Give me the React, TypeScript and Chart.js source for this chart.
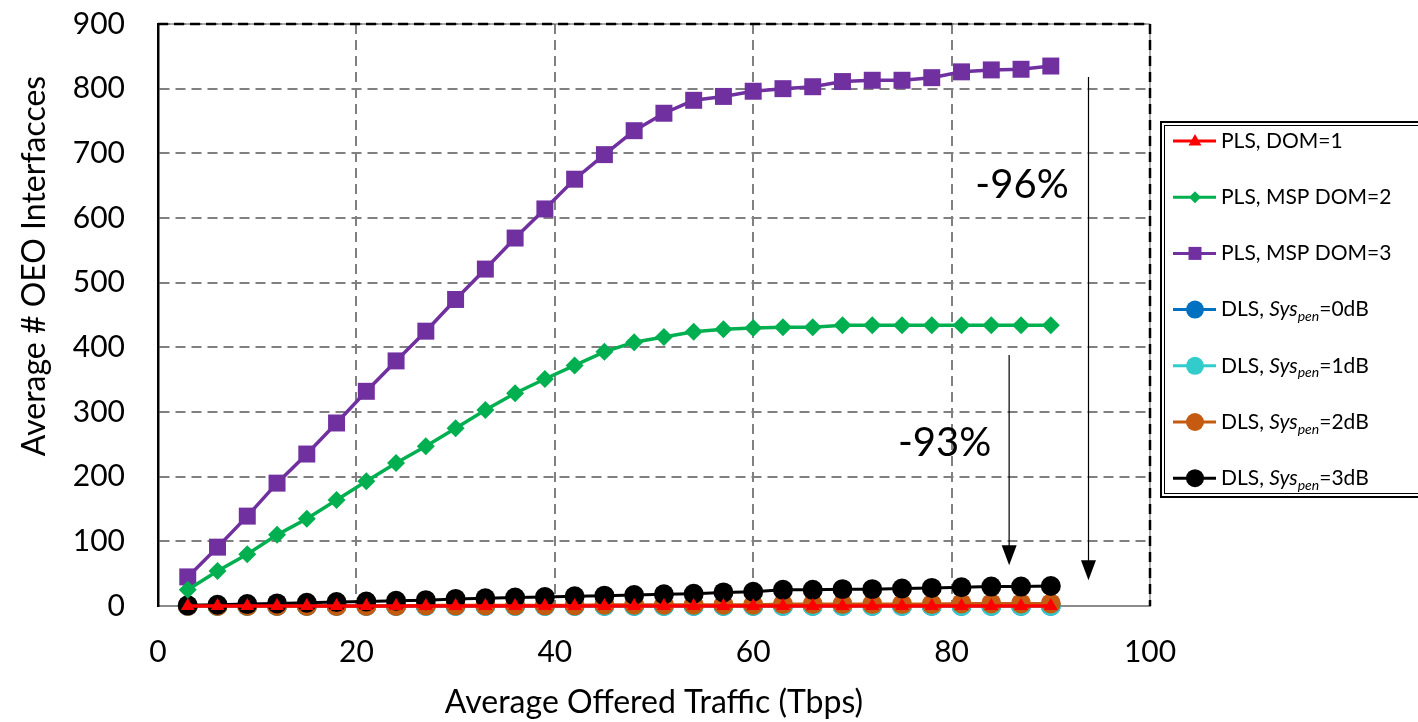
import React, { useEffect, useRef } from 'react';
import { Chart, registerables } from 'chart.js';

Chart.register(...registerables);

// ---- data ----
const traffic = [3, 6, 9, 12, 15, 18, 21, 24, 27, 30, 33, 36, 39, 42, 45, 48, 51, 54, 57, 60, 63, 66, 69, 72, 75, 78, 81, 84, 87, 90];
const plsDom1 = [0, 0, 0, 0, 0, 0, 0, 0, 0, 0, 0, 0, 0, 0, 0, 0, 0, 0, 0, 0, 0, 0, 0, 0, 0, 0, 0, 0, 0, 0];
const plsMspDom2 = [25, 54, 80, 110, 135, 164, 193, 221, 247, 275, 303, 329, 351, 372, 393, 408, 416, 424, 428, 430, 431, 431, 434, 434, 434, 434, 434, 434, 434, 434];
const plsMspDom3 = [45, 91, 139, 190, 235, 283, 332, 379, 425, 474, 521, 569, 614, 660, 698, 735, 762, 782, 788, 796, 800, 803, 811, 813, 813, 817, 826, 829, 830, 835];
const dls0 = [0, 0, 0, 0, 0, 0, 0, 0, 0, 0, 0, 0, 0, 0, 0, 0, 0, 0, 0, 0, 0, 0, 0, 0, 0, 0, 0, 0, 0, 0];
const dls1 = [0, 0, 0, 0, 0, 0, 0, 0, 0, 0, 0, 0, 0, 0, 0, 0, 0, 0, 0, 0, 0, 0, 0, 0, 0, 0, 0, 0, 0, 0];
const dls2 = [0, 0, 0, 0, 0, 0, 0, 0, 1, 1, 1, 1, 1, 1, 2, 2, 2, 2, 2, 2, 3, 3, 3, 3, 3, 3, 4, 4, 4, 4];
const dls3 = [1, 2, 3, 4, 5, 6, 7, 8, 9, 11, 12, 13, 14, 15, 16, 17, 18, 19, 21, 22, 25, 25, 26, 26, 27, 28, 29, 30, 30, 31];

const xTicks = [0, 20, 40, 60, 80, 100];
const yTicks = [0, 100, 200, 300, 400, 500, 600, 700, 800, 900];

const xTitle = 'Average Offered Traffic (Tbps)';
const yTitle = 'Average # OEO Interfacces';

// annotations (data coordinates)
const arrowX = [85.8, 93.8];
const arrowFrom = [388, 818];
const arrowTo = [63, 40];
const noteText = ['-93%', '-96%'];
const noteX = [79.3, 87.1];
const noteY = [252, 651];

const FONT = 'Lato, "Open Sans", sans-serif';

type Seg = { t: string; i?: boolean; sub?: boolean };
const legendEntries: { segs: Seg[]; color: string; marker: string }[] = [
  { segs: [{ t: 'PLS, DOM=1' }], color: '#FF0000', marker: 'triangle' },
  { segs: [{ t: 'PLS, MSP DOM=2' }], color: '#00B050', marker: 'diamond' },
  { segs: [{ t: 'PLS, MSP DOM=3' }], color: '#7030A0', marker: 'square' },
  { segs: [{ t: 'DLS, ' }, { t: 'Sys', i: true }, { t: 'pen', i: true, sub: true }, { t: '=0dB' }], color: '#0070C0', marker: 'circle' },
  { segs: [{ t: 'DLS, ' }, { t: 'Sys', i: true }, { t: 'pen', i: true, sub: true }, { t: '=1dB' }], color: '#33CCCC', marker: 'circle' },
  { segs: [{ t: 'DLS, ' }, { t: 'Sys', i: true }, { t: 'pen', i: true, sub: true }, { t: '=2dB' }], color: '#C55A11', marker: 'circle' },
  { segs: [{ t: 'DLS, ' }, { t: 'Sys', i: true }, { t: 'pen', i: true, sub: true }, { t: '=3dB' }], color: '#000000', marker: 'circle' },
];

function drawMarker(ctx: CanvasRenderingContext2D, kind: string, x: number, y: number, color: string) {
  ctx.fillStyle = color;
  ctx.beginPath();
  if (kind === 'triangle') {
    ctx.moveTo(x, y - 7);
    ctx.lineTo(x + 6.5, y + 4.5);
    ctx.lineTo(x - 6.5, y + 4.5);
  } else if (kind === 'diamond') {
    ctx.moveTo(x, y - 6);
    ctx.lineTo(x + 6, y);
    ctx.lineTo(x, y + 6);
    ctx.lineTo(x - 6, y);
  } else if (kind === 'square') {
    ctx.rect(x - 6.5, y - 6.5, 13, 13);
  } else {
    ctx.arc(x, y, 9, 0, Math.PI * 2);
  }
  ctx.closePath();
  ctx.fill();
}

const framePlugin = {
  id: 'frame',
  afterDatasetsDraw(chart: any) {
    const { ctx, chartArea, scales } = chart;
    const { left, right, top, bottom } = chartArea;
    ctx.save();
    ctx.strokeStyle = '#555';
    ctx.lineWidth = 1;
    ctx.setLineDash([]);
    ctx.beginPath();
    ctx.moveTo(left, top);
    ctx.lineTo(right, top);
    ctx.lineTo(right, bottom);
    ctx.stroke();
    ctx.strokeStyle = '#000';
    ctx.lineWidth = 2.5;
    ctx.setLineDash([10, 6]);
    ctx.beginPath();
    ctx.moveTo(left, top);
    ctx.lineTo(right, top);
    ctx.stroke();
    ctx.beginPath();
    ctx.moveTo(right, top);
    ctx.lineTo(right, bottom);
    ctx.stroke();
    ctx.setLineDash([]);

    const xs = scales.x;
    const ys = scales.y;
    for (let i = 0; i < arrowX.length; i++) {
      const ax = xs.getPixelForValue(arrowX[i]);
      const y1 = ys.getPixelForValue(arrowFrom[i]);
      const y2 = ys.getPixelForValue(arrowTo[i]);
      ctx.strokeStyle = '#000';
      ctx.lineWidth = 1.2;
      ctx.beginPath();
      ctx.moveTo(ax, y1);
      ctx.lineTo(ax, y2 - 18);
      ctx.stroke();
      ctx.fillStyle = '#000';
      ctx.beginPath();
      ctx.moveTo(ax - 7.5, y2 - 20);
      ctx.lineTo(ax + 7.5, y2 - 20);
      ctx.lineTo(ax, y2);
      ctx.closePath();
      ctx.fill();
      ctx.font = `40px ${FONT}`;
      ctx.textAlign = 'center';
      ctx.textBaseline = 'middle';
      ctx.fillText(noteText[i], xs.getPixelForValue(noteX[i]), ys.getPixelForValue(noteY[i]));
    }
    ctx.restore();
  },
  afterDraw(chart: any) {
    const { ctx } = chart;
    ctx.save();
    // y axis title
    ctx.save();
    ctx.translate(35, 266);
    ctx.rotate(-Math.PI / 2);
    ctx.font = `32px ${FONT}`;
    ctx.fillStyle = '#000';
    ctx.textAlign = 'center';
    ctx.textBaseline = 'middle';
    ctx.fillText(yTitle, 0, 0);
    ctx.restore();

    // legend
    ctx.strokeStyle = '#000';
    ctx.lineWidth = 2;
    ctx.strokeRect(1161, 122, 320, 375);
    ctx.lineWidth = 1;
    ctx.strokeRect(1164.5, 125.5, 320, 368);
    legendEntries.forEach((e, i) => {
      const y = 141 + i * 56.2;
      ctx.strokeStyle = e.color;
      ctx.lineWidth = 3;
      ctx.beginPath();
      ctx.moveTo(1173, y);
      ctx.lineTo(1216, y);
      ctx.stroke();
      drawMarker(ctx, e.marker, 1195, y, e.color);
      let x = 1221;
      ctx.fillStyle = '#000';
      ctx.textAlign = 'left';
      ctx.textBaseline = 'middle';
      e.segs.forEach((s) => {
        const size = s.sub ? 14 : 21;
        ctx.font = `${s.i ? 'italic ' : ''}${size}px ${FONT}`;
        ctx.fillText(s.t, x, s.sub ? y + 7 : y);
        x += ctx.measureText(s.t).width;
      });
    });
    ctx.restore();
  },
};

export default function App() {
  const ref = useRef<HTMLCanvasElement>(null);
  useEffect(() => {
    document.body.style.margin = '0';
    const mk = (label: string, data: number[], color: string, style: string, radius: number, width: number, order: number) => ({
      label,
      data: data.map((v, i) => ({ x: traffic[i], y: v })),
      borderColor: color,
      backgroundColor: color,
      pointBackgroundColor: color,
      pointBorderColor: color,
      pointBorderWidth: 0,
      pointStyle: style,
      pointRadius: radius,
      borderWidth: width,
      order,
      clip: false,
      tension: 0,
    });
    const chart = new Chart(ref.current!, {
      type: 'line',
      data: {
        datasets: [
          mk('PLS, DOM=1', plsDom1, '#FF0000', 'triangle', 8, 3.5, 0),
          mk('PLS, MSP DOM=2', plsMspDom2, '#00B050', 'rectRot', 9, 3.5, 1),
          mk('PLS, MSP DOM=3', plsMspDom3, '#7030A0', 'rect', 12, 3.5, 2),
          mk('DLS, Syspen=0dB', dls0, '#0070C0', 'circle', 10, 3, 6),
          mk('DLS, Syspen=1dB', dls1, '#33CCCC', 'circle', 10, 3, 5),
          mk('DLS, Syspen=2dB', dls2, '#C55A11', 'circle', 10, 3, 4),
          mk('DLS, Syspen=3dB', dls3, '#000000', 'circle', 10, 3, 3),
        ] as any,
      },
      options: {
        animation: false,
        responsive: false,
        devicePixelRatio: 1,
        layout: { padding: { left: 0, right: 268, top: 24, bottom: 0 } },
        plugins: { legend: { display: false }, tooltip: { enabled: false } },
        scales: {
          x: {
            type: 'linear',
            min: 0,
            max: 100,
            afterBuildTicks: (axis: any) => { axis.ticks = xTicks.map((v) => ({ value: v })); },
            afterFit: (axis: any) => { axis.height = 116; axis.paddingLeft = 0; axis.paddingRight = 0; },
            ticks: { color: '#000', font: { family: FONT, size: 30 }, padding: 28 },
            grid: { drawTicks: false, color: '#808080', lineWidth: 2 },
            border: { color: '#8c8c8c', width: 2, dash: [10, 6] },
            title: { display: true, text: xTitle, color: '#000', font: { family: FONT, size: 32 }, padding: { top: 0, bottom: 0 } },
          },
          y: {
            type: 'linear',
            min: 0,
            max: 900,
            afterBuildTicks: (axis: any) => { axis.ticks = yTicks.map((v) => ({ value: v })); },
            afterFit: (axis: any) => { axis.width = 158; axis.paddingTop = 0; axis.paddingBottom = 0; },
            ticks: { color: '#000', font: { family: FONT, size: 30 }, padding: 33 },
            grid: { drawTicks: false, color: '#808080', lineWidth: 2 },
            border: { color: '#000', width: 2.5, dash: [10, 6] },
            title: { display: false },
          },
        } as any,
      },
      plugins: [framePlugin],
    });
    return () => chart.destroy();
  }, []);
  return (
    <div style={{ position: 'absolute', left: 0, top: 0, width: 1418, height: 722, background: '#fff' }}>
      <canvas ref={ref} width={1418} height={722} />
    </div>
  );
}
